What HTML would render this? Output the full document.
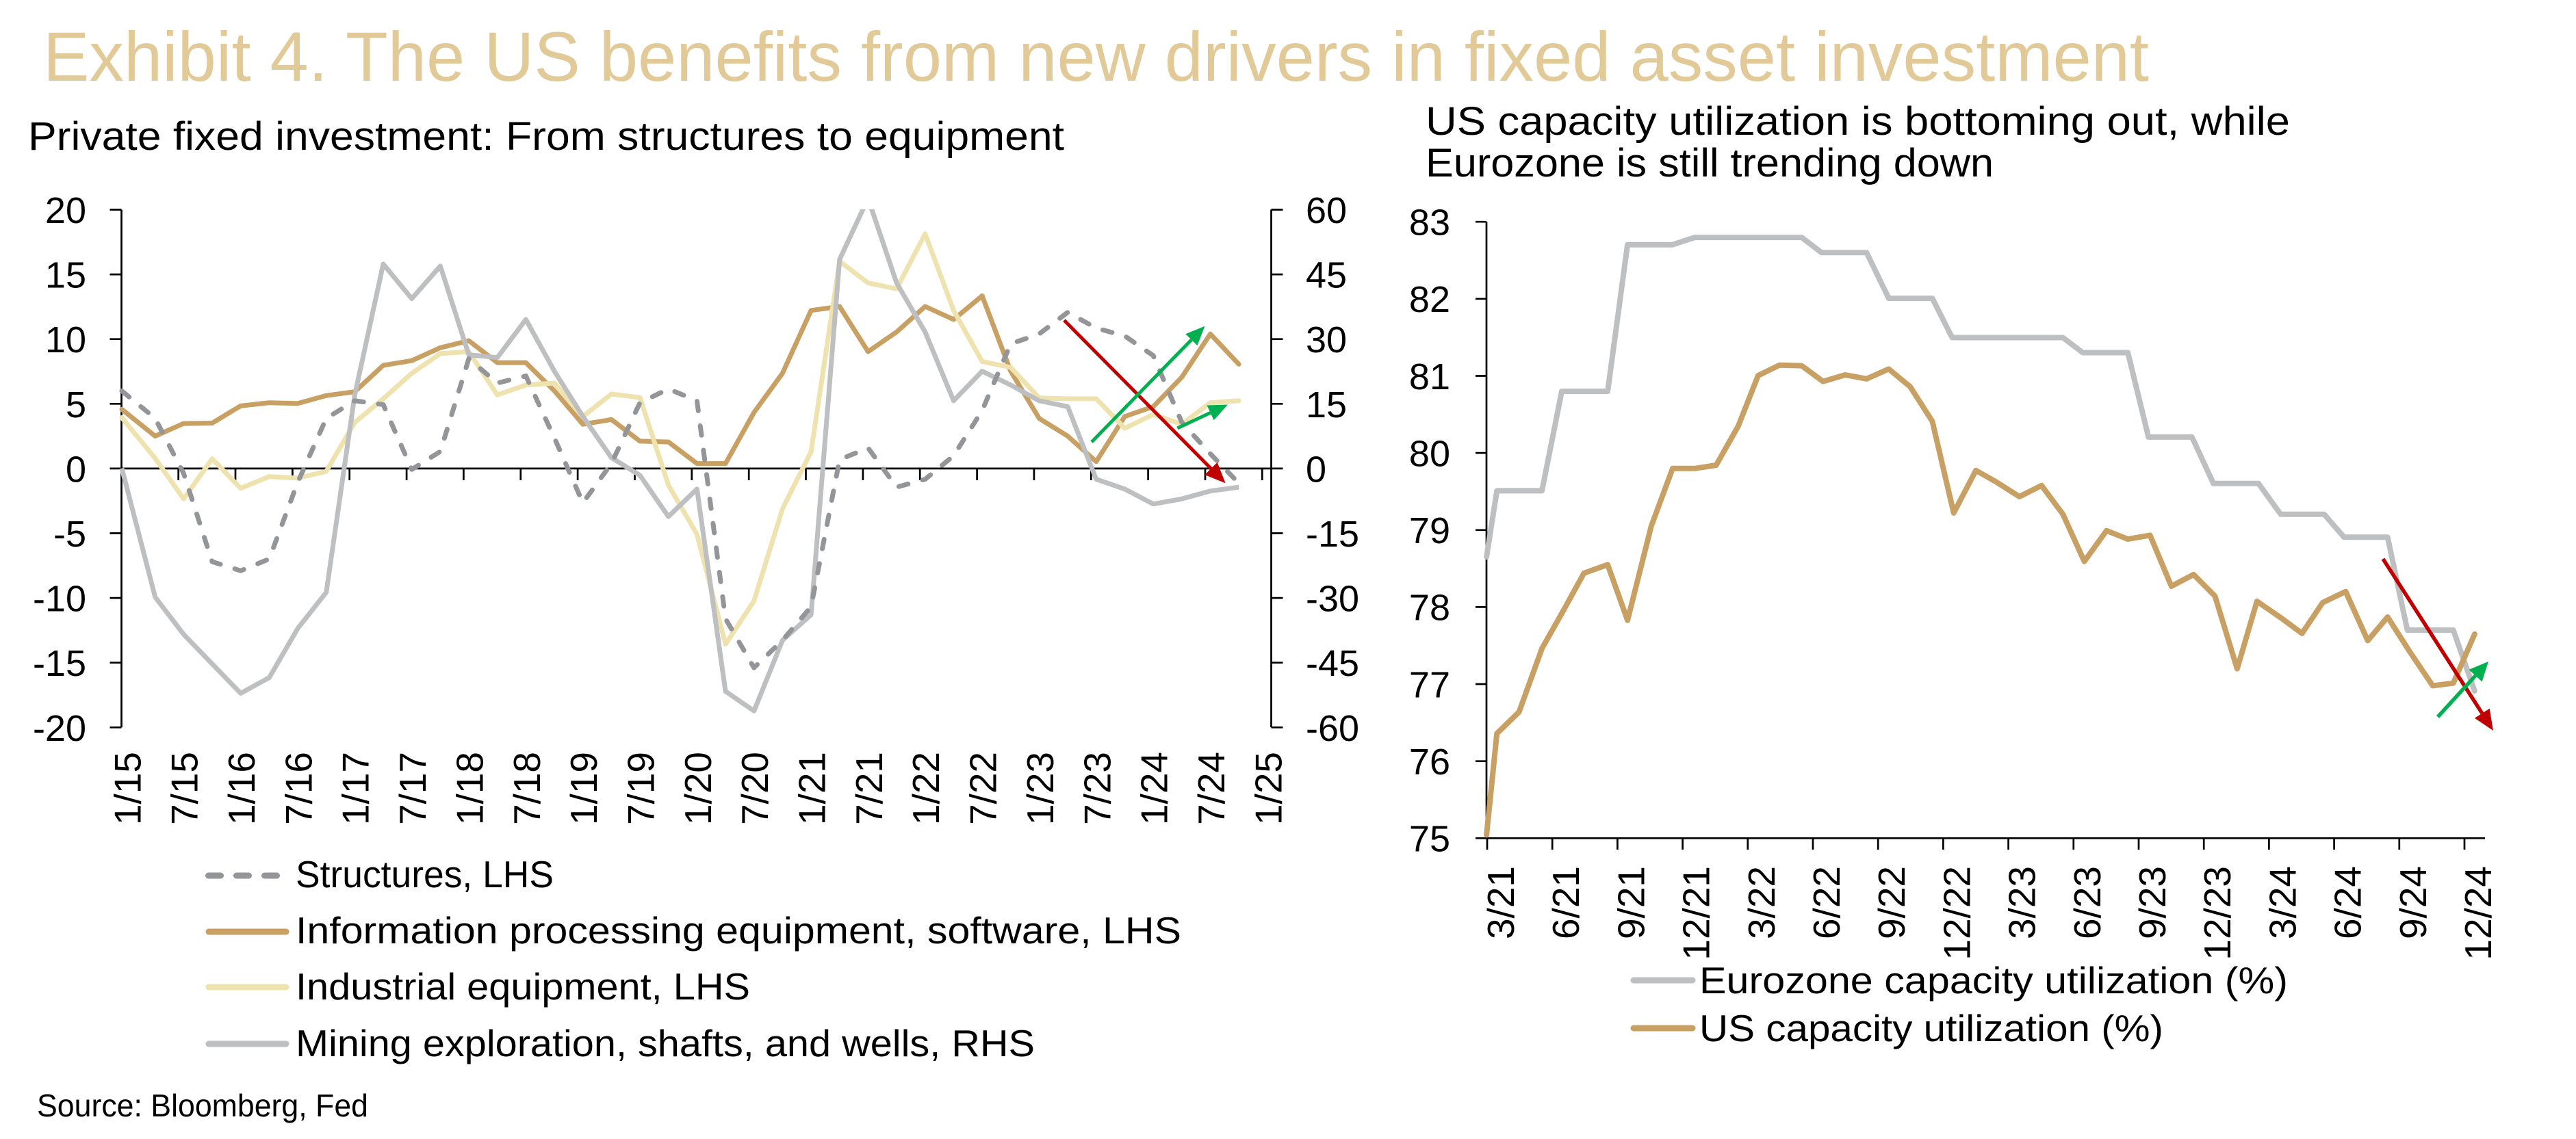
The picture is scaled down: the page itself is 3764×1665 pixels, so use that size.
<!DOCTYPE html>
<html><head><meta charset="utf-8"><style>
html,body{margin:0;padding:0;background:#fff;}
svg{display:block;}
text{font-family:"Liberation Sans",Arial,sans-serif;}
</style></head><body>
<svg width="3764" height="1665" viewBox="0 0 3764 1665" xmlns="http://www.w3.org/2000/svg">
<rect width="3764" height="1665" fill="#fff"/>
<defs>
<clipPath id="cl"><rect x="170" y="306" width="1700" height="760"/></clipPath>
<clipPath id="cr"><rect x="2165" y="300" width="1600" height="925"/></clipPath>
</defs>

<!-- Titles -->
<text x="63" y="118" font-size="102" fill="#E1CA98" textLength="3077" lengthAdjust="spacingAndGlyphs">Exhibit 4. The US benefits from new drivers in fixed asset investment</text>
<text x="41" y="219" font-size="58" fill="#000" textLength="1514" lengthAdjust="spacingAndGlyphs">Private fixed investment: From structures to equipment</text>
<text x="2083" y="197" font-size="58" fill="#000" textLength="1263" lengthAdjust="spacingAndGlyphs">US capacity utilization is bottoming out, while</text>
<text x="2083" y="258" font-size="58" fill="#000" textLength="830" lengthAdjust="spacingAndGlyphs">Eurozone is still trending down</text>

<!-- LEFT CHART axes -->
<g stroke="#000" stroke-width="2.7" fill="none">
<line x1="177.5" y1="306.5" x2="177.5" y2="1063.3"/>
<line x1="1857.5" y1="306.5" x2="1857.5" y2="1063.3"/>
<line x1="177.5" y1="684.9" x2="1857.5" y2="684.9"/>
<path d="M160.5 306.5H177.5M160.5 401.1H177.5M160.5 495.7H177.5M160.5 590.3H177.5M160.5 684.9H177.5M160.5 779.5H177.5M160.5 874.1H177.5M160.5 968.7H177.5M160.5 1063.3H177.5"/>
<path d="M1857.5 306.5H1874.5M1857.5 401.1H1874.5M1857.5 495.7H1874.5M1857.5 590.3H1874.5M1857.5 684.9H1874.5M1857.5 779.5H1874.5M1857.5 874.1H1874.5M1857.5 968.7H1874.5M1857.5 1063.3H1874.5"/>
<path d="M260.7 684.9V702M344 684.9V702M427.4 684.9V702M510.7 684.9V702M594.1 684.9V702M677.4 684.9V702M760.8 684.9V702M844.1 684.9V702M927.5 684.9V702M1010.8 684.9V702M1094.2 684.9V702M1177.5 684.9V702M1260.9 684.9V702M1344.2 684.9V702M1427.6 684.9V702M1510.9 684.9V702M1594.3 684.9V702M1677.6 684.9V702M1761 684.9V702M1844.3 684.9V702"/>
</g>

<!-- Left Y labels -->
<g font-size="54" fill="#000" text-anchor="end">
<text x="126" y="326">20</text>
<text x="126" y="420.6">15</text>
<text x="126" y="515.2">10</text>
<text x="126" y="609.8">5</text>
<text x="126" y="704.4">0</text>
<text x="126" y="799">-5</text>
<text x="126" y="893.6">-10</text>
<text x="126" y="988.2">-15</text>
<text x="126" y="1082.8">-20</text>
</g>
<g font-size="54" fill="#000" text-anchor="start">
<text x="1908" y="326">60</text>
<text x="1908" y="420.6">45</text>
<text x="1908" y="515.2">30</text>
<text x="1908" y="609.8">15</text>
<text x="1908" y="704.4">0</text>
<text x="1908" y="799">-15</text>
<text x="1908" y="893.6">-30</text>
<text x="1908" y="988.2">-45</text>
<text x="1908" y="1082.8">-60</text>
</g>

<!-- Left X labels -->
<g font-size="55" fill="#000" text-anchor="end">
<text transform="translate(205.3,1099) rotate(-90)">1/15</text>
<text transform="translate(288.7,1099) rotate(-90)">7/15</text>
<text transform="translate(372,1099) rotate(-90)">1/16</text>
<text transform="translate(455.4,1099) rotate(-90)">7/16</text>
<text transform="translate(538.7,1099) rotate(-90)">1/17</text>
<text transform="translate(622.1,1099) rotate(-90)">7/17</text>
<text transform="translate(705.4,1099) rotate(-90)">1/18</text>
<text transform="translate(788.8,1099) rotate(-90)">7/18</text>
<text transform="translate(872.1,1099) rotate(-90)">1/19</text>
<text transform="translate(955.5,1099) rotate(-90)">7/19</text>
<text transform="translate(1038.8,1099) rotate(-90)">1/20</text>
<text transform="translate(1122.2,1099) rotate(-90)">7/20</text>
<text transform="translate(1205.5,1099) rotate(-90)">1/21</text>
<text transform="translate(1288.9,1099) rotate(-90)">7/21</text>
<text transform="translate(1372.2,1099) rotate(-90)">1/22</text>
<text transform="translate(1455.6,1099) rotate(-90)">7/22</text>
<text transform="translate(1538.9,1099) rotate(-90)">1/23</text>
<text transform="translate(1622.3,1099) rotate(-90)">7/23</text>
<text transform="translate(1705.6,1099) rotate(-90)">1/24</text>
<text transform="translate(1789,1099) rotate(-90)">7/24</text>
<text transform="translate(1872.3,1099) rotate(-90)">1/25</text>
</g>

<!-- Left series -->
<g clip-path="url(#cl)" fill="none" stroke-width="7" stroke-linejoin="round" stroke-linecap="round">
<polyline stroke="#C9A063" points="178,598.4 226.7,637.5 268.3,619.1 310,618.5 351.7,593.3 393.4,588.7 435,589.8 476.7,578.3 518.4,572.6 560,534.1 601.7,527.2 643.4,508.3 685,498 726.7,530.1 768.4,530.1 810.1,571.4 851.7,620.2 893.4,613.3 935.1,644.9 976.7,646.1 1018.4,677.6 1060.1,677.6 1101.7,603 1143.4,545.6 1185.1,453.8 1226.8,448 1268.4,514 1310.1,485.3 1351.8,448 1393.4,467 1435.1,432.5 1476.8,542.7 1518.4,611.6 1560.1,637.5 1601.8,674.8 1643.5,608.8 1685.1,594.4 1726.8,551.4 1768.5,488.2 1810.1,532.4"/>
<polyline stroke="#EEE2AE" points="178,610.5 226.7,670 268.3,729.3 310,670.7 351.7,713.8 393.4,696.6 435,698.9 476.7,689.1 518.4,617.4 560,582.9 601.7,545.6 643.4,516.9 685,514 726.7,577.2 768.4,562.8 810.1,560 851.7,608.8 893.4,576 935.1,581.2 976.7,709.2 1018.4,781 1060.1,941.7 1101.7,878.5 1143.4,743.6 1185.1,660.4 1226.8,382 1268.4,413.6 1310.1,422.2 1351.8,341.8 1393.4,453.8 1435.1,528.4 1476.8,537 1518.4,581.8 1560.1,582.9 1601.8,582.9 1643.5,626 1685.1,605.9 1726.8,620.2 1768.5,588.7 1810.1,585.8"/>
<polyline stroke="#BEBFC1" stroke-linecap="butt" points="178,684.5 226.7,872.8 268.3,927.3 310,970.4 351.7,1013.4 393.4,990.5 435,918.7 476.7,865.9 518.4,577.2 560,386 601.7,436.6 643.4,388.9 685,518.6 726.7,522.7 768.4,467 810.1,542.7 851.7,608.8 893.4,669 935.1,694.9 976.7,755.1 1018.4,714.9 1060.1,1010.6 1101.7,1039.3 1143.4,935.9 1185.1,898.6 1226.8,379.2 1268.4,290 1310.1,413.6 1351.8,485.3 1393.4,585.8 1435.1,542.7 1476.8,562.8 1518.4,585.8 1560.1,594.4 1601.8,700.6 1643.5,714.9 1685.1,736.8 1726.8,729.3 1768.5,717.8 1810.1,712.1"/>
<polyline stroke="#939598" stroke-dasharray="14 22" points="178,571.4 226.7,611.6 268.3,692 310,821.1 351.7,834.3 393.4,817.1 435,705 476.7,611.6 518.4,585.8 560,591.5 601.7,686.2 643.4,660 685,524.4 726.7,560 768.4,549.6 810.1,640.3 851.7,735 893.4,677.6 935.1,588.7 976.7,568.6 1018.4,585.8 1060.1,904.4 1101.7,976.1 1143.4,935.9 1185.1,887.1 1226.8,671.9 1268.4,654.7 1310.1,712.1 1351.8,700.6 1393.4,666.2 1435.1,600.1 1476.8,502.6 1518.4,488.2 1560.1,456.6 1601.8,479.6 1643.5,491.1 1685.1,519.8 1726.8,617.4 1768.5,663.3 1810.1,706.3"/>
</g>

<!-- Left arrows -->
<g stroke-width="5" fill="none">
<line x1="1554.9" y1="468.1" x2="1769.5" y2="685" stroke="#C00000"/>
<line x1="1595.1" y1="646.1" x2="1740.9" y2="496.7" stroke="#00B050"/>
<line x1="1720.3" y1="626" x2="1768.6" y2="603.4" stroke="#00B050"/>
</g>
<polygon points="1790.6,706.3 1760.3,694.1 1778.7,675.9" fill="#C00000"/>
<polygon points="1760.4,476.7 1749.5,505.1 1732.3,488.3" fill="#00B050"/>
<polygon points="1793.9,591.5 1773.7,614.3 1763.5,592.5" fill="#00B050"/>

<!-- Left legend -->
<g fill="#939598">
<rect x="300" y="1275.5" width="27" height="9" rx="4.5"/>
<rect x="341" y="1275.5" width="27" height="9" rx="4.5"/>
<rect x="382" y="1275.5" width="27" height="9" rx="4.5"/>
</g>
<g stroke-width="9" stroke-linecap="round">
<line x1="305" y1="1362" x2="418" y2="1362" stroke="#C9A063"/>
<line x1="305" y1="1443" x2="418" y2="1443" stroke="#EEE2AE"/>
<line x1="305" y1="1526" x2="418" y2="1526" stroke="#BEBFC1"/>
</g>
<g font-size="55" fill="#000">
<text x="432" y="1297" textLength="377" lengthAdjust="spacingAndGlyphs">Structures, LHS</text>
<text x="432" y="1379" textLength="1294" lengthAdjust="spacingAndGlyphs">Information processing equipment, software, LHS</text>
<text x="432" y="1461" textLength="664" lengthAdjust="spacingAndGlyphs">Industrial equipment, LHS</text>
<text x="432" y="1544" textLength="1080" lengthAdjust="spacingAndGlyphs">Mining exploration, shafts, and wells, RHS</text>
</g>
<text x="54" y="1632" font-size="46" fill="#000" textLength="484" lengthAdjust="spacingAndGlyphs">Source: Bloomberg, Fed</text>

<!-- RIGHT CHART axes -->
<g stroke="#000" stroke-width="2.7" fill="none">
<line x1="2172" y1="324.2" x2="2172" y2="1225.3"/>
<line x1="2172" y1="1225.3" x2="3631" y2="1225.3"/>
<path d="M2156 324.2H2172M2156 436.8H2172M2156 549.5H2172M2156 662.1H2172M2156 774.8H2172M2156 887.4H2172M2156 1000H2172M2156 1112.7H2172M2156 1225.3H2172"/>
<path d="M2173 1225.3V1242M2268.2 1225.3V1242M2363.4 1225.3V1242M2458.6 1225.3V1242M2553.8 1225.3V1242M2649 1225.3V1242M2744.2 1225.3V1242M2839.4 1225.3V1242M2934.6 1225.3V1242M3029.8 1225.3V1242M3125 1225.3V1242M3220.2 1225.3V1242M3315.4 1225.3V1242M3410.6 1225.3V1242M3505.8 1225.3V1242M3601 1225.3V1242"/>
</g>
<g font-size="54" fill="#000" text-anchor="end">
<text x="2119" y="343.5">83</text>
<text x="2119" y="456.1">82</text>
<text x="2119" y="568.8">81</text>
<text x="2119" y="681.4">80</text>
<text x="2119" y="794.1">79</text>
<text x="2119" y="906.7">78</text>
<text x="2119" y="1019.3">77</text>
<text x="2119" y="1132">76</text>
<text x="2119" y="1244.6">75</text>
</g>
<g font-size="55" fill="#000" text-anchor="end">
<text transform="translate(2212,1266) rotate(-90)">3/21</text>
<text transform="translate(2307.2,1266) rotate(-90)">6/21</text>
<text transform="translate(2402.4,1266) rotate(-90)">9/21</text>
<text transform="translate(2497.6,1266) rotate(-90)">12/21</text>
<text transform="translate(2592.8,1266) rotate(-90)">3/22</text>
<text transform="translate(2688,1266) rotate(-90)">6/22</text>
<text transform="translate(2783.2,1266) rotate(-90)">9/22</text>
<text transform="translate(2878.4,1266) rotate(-90)">12/22</text>
<text transform="translate(2973.6,1266) rotate(-90)">3/23</text>
<text transform="translate(3068.8,1266) rotate(-90)">6/23</text>
<text transform="translate(3164,1266) rotate(-90)">9/23</text>
<text transform="translate(3259.2,1266) rotate(-90)">12/23</text>
<text transform="translate(3354.4,1266) rotate(-90)">3/24</text>
<text transform="translate(3449.6,1266) rotate(-90)">6/24</text>
<text transform="translate(3544.8,1266) rotate(-90)">9/24</text>
<text transform="translate(3640,1266) rotate(-90)">12/24</text>
</g>

<!-- Right series -->
<g clip-path="url(#cr)" fill="none" stroke-width="8" stroke-linejoin="round" stroke-linecap="round">
<polyline stroke="#BEBFC1" points="2172.1,814 2187.2,717.4 2253.1,717.4 2282,572 2349.1,572 2378.1,357.7 2444,357.7 2476.4,347.1 2632.6,347.1 2661.5,369.2 2727.4,369.2 2759.8,436.1 2823.5,436.1 2852.4,493.5 3014.3,493.5 3043.3,515.5 3109.2,515.5 3139.3,638.9 3202.9,638.9 3234.2,706.8 3300.1,706.8 3332.5,751.8 3396.1,751.8 3425,785.3 3488.7,785.3 3517.6,921.1 3584.7,921.1 3615.9,1010.1"/>
<polyline stroke="#C9A063" points="2172.1,1220.5 2187.2,1072.3 2219.6,1040.7 2253.1,947.9 2285.5,890.5 2314.4,837.9 2349.1,825.4 2378.1,906.8 2412.8,769 2444,684.8 2476.4,684.8 2507.6,680 2540,622.6 2568.9,549 2600.2,533.7 2632.6,534.6 2663.8,557.6 2696.2,548 2727.4,553.8 2759.8,539.4 2791.1,565.3 2823.5,616 2854.7,749.9 2887.1,687.7 2916,704 2950.7,726 2983.1,709.7 3014.3,751.8 3045.6,820.7 3078,775.7 3109.2,788.1 3141.6,782.4 3172.8,857 3205.2,839.8 3236.5,871.4 3268.9,977.6 3297.8,879 3332.5,902.9 3363.7,925.9 3393.8,880.9 3427.4,864.7 3459.7,936.4 3488.7,902 3521.1,952.7 3554.6,1002.4 3584.7,998.6 3615.9,926.9"/>
</g>

<!-- Right arrows -->
<g stroke-width="5.5" fill="none">
<line x1="3482" y1="817" x2="3626.8" y2="1042.7" stroke="#C00000"/>
<line x1="3562" y1="1048" x2="3617.1" y2="987.7" stroke="#00B050"/>
</g>
<polygon points="3643,1068 3615.9,1049.7 3637.7,1035.7" fill="#C00000"/>
<polygon points="3636,967 3626.7,996.5 3607.5,978.9" fill="#00B050"/>

<!-- Right legend -->
<g stroke-width="9" stroke-linecap="round">
<line x1="2387" y1="1433" x2="2473" y2="1433" stroke="#BEBFC1"/>
<line x1="2387" y1="1503" x2="2473" y2="1503" stroke="#C9A063"/>
</g>
<g font-size="55" fill="#000">
<text x="2483" y="1452" textLength="860" lengthAdjust="spacingAndGlyphs">Eurozone capacity utilization (%)</text>
<text x="2483" y="1522" textLength="678" lengthAdjust="spacingAndGlyphs">US capacity utilization (%)</text>
</g>
</svg>
</body></html>
